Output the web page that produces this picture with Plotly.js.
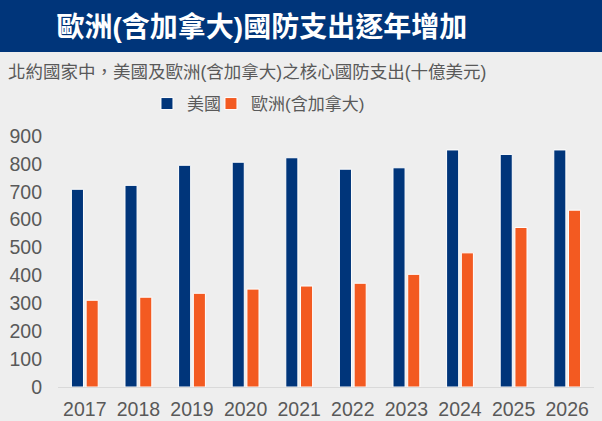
<!DOCTYPE html>
<html>
<head>
<meta charset="utf-8">
<script src="https://cdn.plot.ly/plotly-3.0.1.min.js"></script>
<style>
  html, body { margin: 0; padding: 0; background: #eeeeee; }
  #chart { width: 602px; height: 421px; }
</style>
</head>
<body>
<div id="chart"></div>
<script>
    // 北約核心國防支出 (十億美元)
    var years = ['2017', '2018', '2019', '2020', '2021', '2022', '2023', '2024', '2025', '2026'];
    var usSpend = [709, 723, 795, 806, 822, 781, 786, 850, 834, 850];
    var euSpend = [311, 322, 336, 351, 362, 372, 404, 481, 572, 634];
    var seriesNames = ['美國', '歐洲(含加拿大)'];

    var navy = '#00357a';
    var orange = '#f35a21';
    var grey = '#595959';
    var fam = '"Liberation Sans", Arial, "Noto Sans CJK TC", sans-serif';

    var data = [
        {x: years, y: usSpend, name: seriesNames[0], type: 'bar',
         marker: {color: navy, line: {color: '#ffffff', width: 1}},
         legend: 'legend', showlegend: true, hoverinfo: 'y'},
        {x: years, y: euSpend, name: seriesNames[1], type: 'bar',
         marker: {color: orange, line: {color: '#ffffff', width: 1}},
         legend: 'legend2', showlegend: true, hoverinfo: 'y'}
    ];

    // two small legends side by side, placed like the original
    var legendBase = {
        orientation: 'h',
        y: 1.1275, yanchor: 'middle',
        xanchor: 'left',
        font: {size: 17, color: grey},
        itemwidth: 30,
        bgcolor: 'rgba(0,0,0,0)'
    };

    var layout = {
        width: 602,
        height: 421,
        margin: {l: 58, r: 8, t: 136, b: 34},
        paper_bgcolor: '#eeeeee',
        plot_bgcolor: '#eeeeee',
        font: {family: fam, color: grey},
        showlegend: true,
        barmode: 'group',
        bargap: 0.45,
        bargroupgap: 0.18,
        title: {
            text: '<b>歐洲(含加拿大)國防支出逐年增加</b>',
            font: {family: fam, size: 28, color: '#ffffff'},
            xref: 'container', yref: 'container',
            x: 0.435, xanchor: 'center',
            y: 0.935, yanchor: 'middle'
        },
        xaxis: {
            type: 'category',
            showline: true,
            linecolor: '#d9d9d9',
            linewidth: 1,
            ticks: '',
            showgrid: false,
            tickfont: {size: 19.5, color: grey},
            ticklabelstandoff: 5
        },
        yaxis: {
            range: [0, 900],
            dtick: 100,
            showgrid: false,
            zeroline: false,
            showline: false,
            ticks: '',
            tickfont: {size: 19.5, color: grey},
            ticklabelstandoff: 15
        },
        legend: Object.assign({}, legendBase, {x: 0.166}),
        legend2: Object.assign({}, legendBase, {x: 0.2854}),
        shapes: [{
            type: 'rect', xref: 'paper', yref: 'paper',
            x0: -0.12, x1: 1.03, y0: 1.3347, y1: 1.6,
            fillcolor: '#00357a', line: {width: 0}, layer: 'below'
        }],
        annotations: [{
            xref: 'paper', yref: 'paper',
            x: -0.097, xanchor: 'left',
            y: 1.255, yanchor: 'middle',
            text: '北約國家中，美國及歐洲(含加拿大)之核心國防支出(十億美元)',
            showarrow: false,
            font: {size: 17.5, color: grey}
        }]
    };

    var config = {responsive: false, displayModeBar: false};
    Plotly.newPlot('chart', data, layout, config);
</script>
</body>
</html>
